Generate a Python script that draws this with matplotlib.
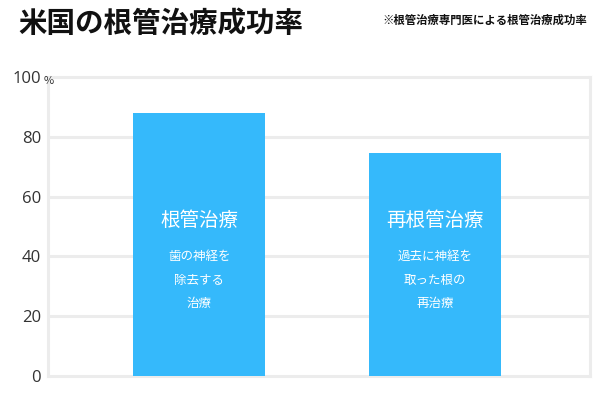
import matplotlib
matplotlib.use("Agg")
import matplotlib.pyplot as plt

plt.rcParams['font.family'] = ['Noto Sans CJK JP', 'DejaVu Sans']

categories = ["根管治療", "再根管治療"]
values = [88, 74.5]
descriptions = ["歯の神経を\n除去する\n治療", "過去に神経を\n取った根の\n再治療"]
yticks = [0, 20, 40, 60, 80, 100]
title = "米国の根管治療成功率"
note = "※根管治療専門医による根管治療成功率"

bar_color = "#35B9FB"
grid_color = "#ececec"

fig = plt.figure(figsize=(6, 4), dpi=100)
ax = fig.add_axes([0.08, 0.06, 0.9033, 0.7475])

x = list(range(len(categories)))
ax.bar(x, values, width=0.56, color=bar_color, zorder=3)

ax.set_xlim(-0.641, 1.658)
ax.set_ylim(0, 100)
ax.set_yticks(yticks)
ax.set_yticklabels([str(t) for t in yticks], fontsize=12, color="#333333",
                   family=['Open Sans', 'DejaVu Sans'])
ax.tick_params(axis='y', length=0, pad=5)
ax.set_xticks([])
for t in yticks[1:-1]:
    ax.axhline(t, color=grid_color, lw=2.2, zorder=1)
for s in ax.spines.values():
    s.set_color(grid_color)
    s.set_linewidth(2.2)

ax.text(-0.008, 0.985, "%", transform=ax.transAxes, fontsize=8, color="#333333",
        ha='left', va='center', zorder=5)

for xi, cat, desc in zip(x, categories, descriptions):
    ax.text(xi, 52, cat, ha='center', va='center', color='white', fontsize=14, zorder=4)
    ax.text(xi, 32.0, desc, ha='center', va='center', color='white', fontsize=9,
            linespacing=2.05, zorder=4)

fig.text(0.03, 0.94, title, fontsize=20.5, fontweight='bold', ha='left', va='center', color='#111111')
fig.text(0.978, 0.95, note, fontsize=8.2, fontweight='bold', ha='right', va='center', color='#111111')

fig.savefig("out.png", dpi=100)
